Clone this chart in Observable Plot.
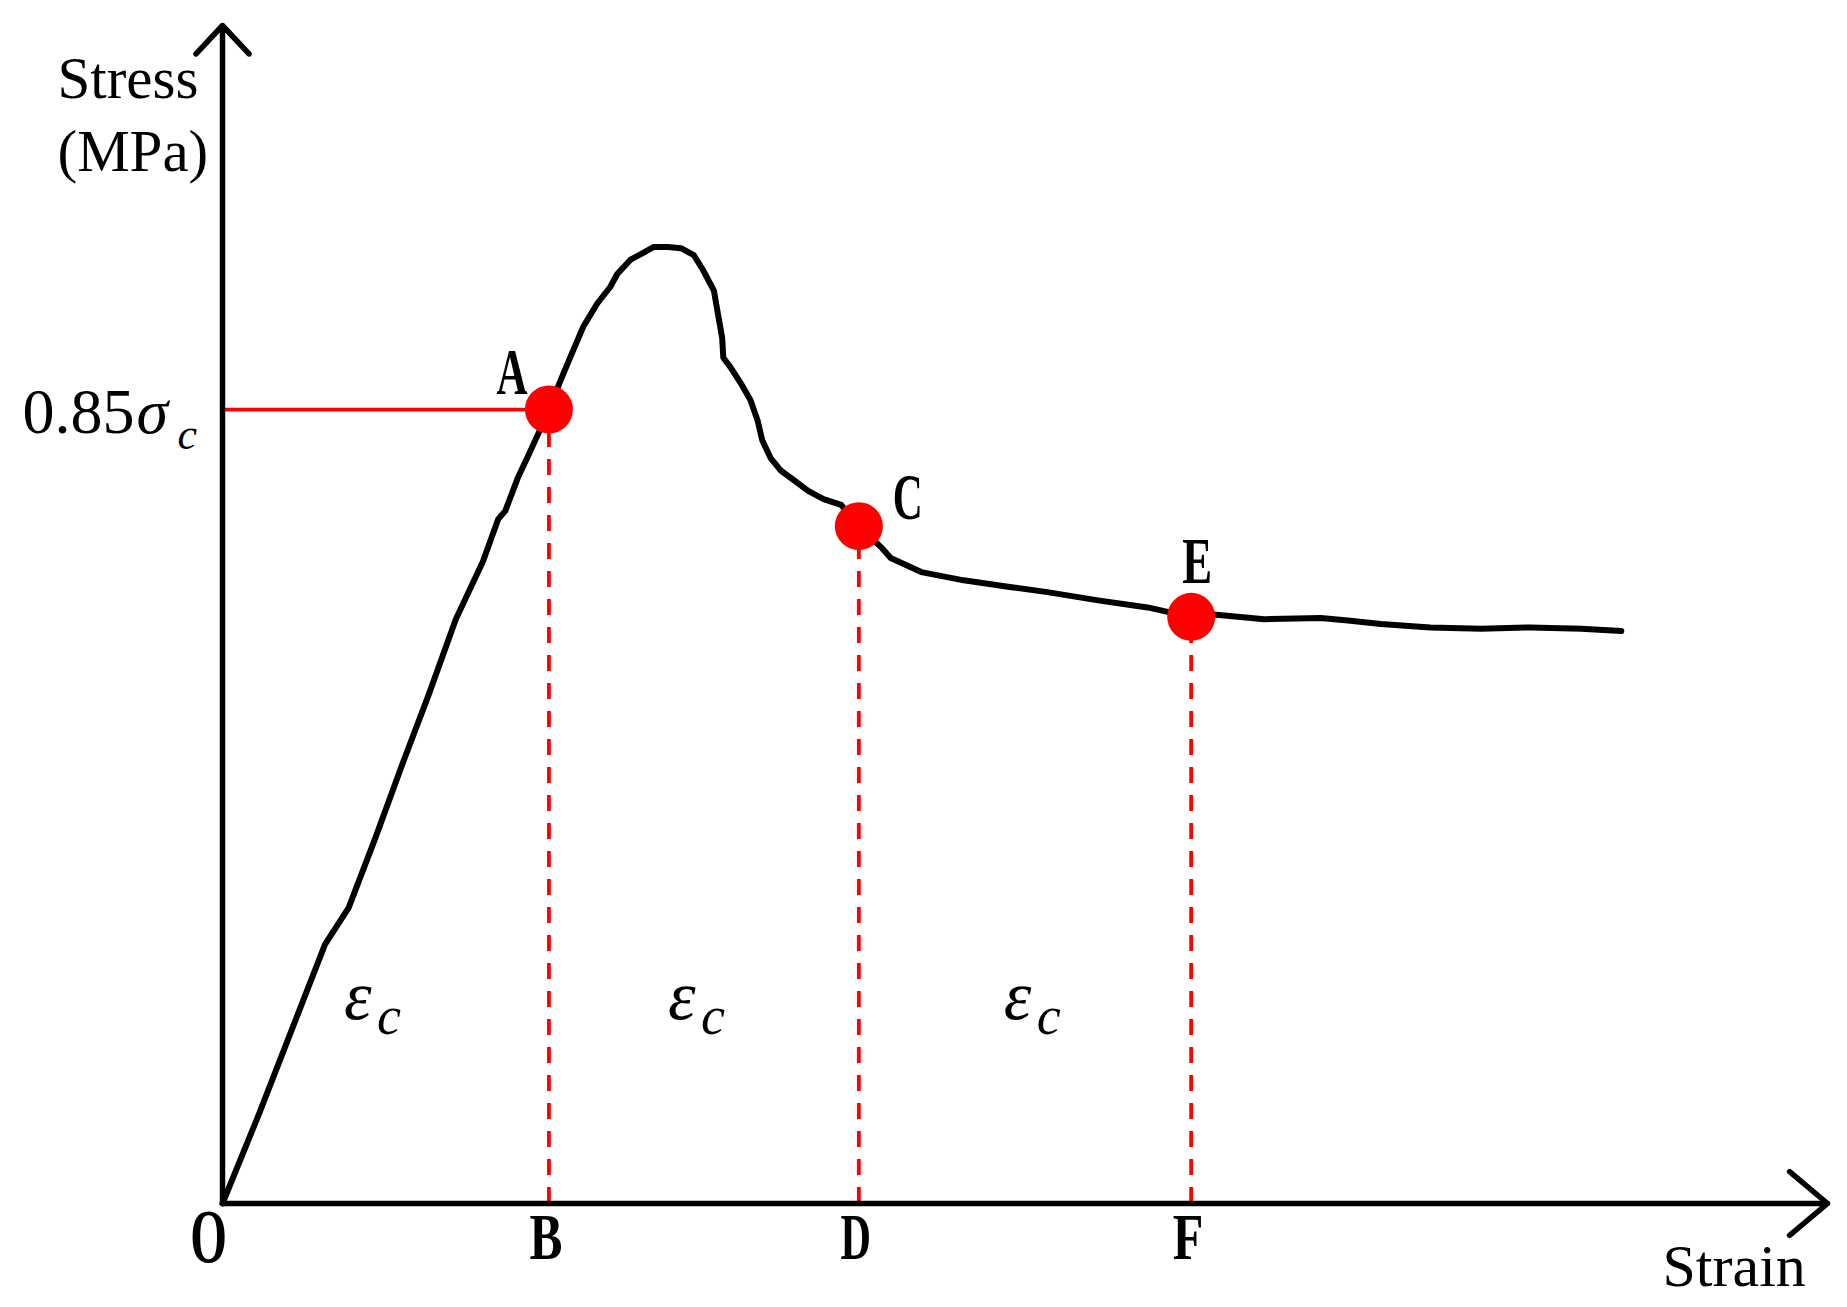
<!DOCTYPE html>
<html>
<head>
<meta charset="utf-8">
<script src="https://cdn.jsdelivr.net/npm/d3@7"></script>
<script src="https://cdn.jsdelivr.net/npm/@observablehq/plot@0.6"></script>
<style>
html, body { margin: 0; padding: 0; background: #fff; overflow: hidden; }
svg { display: block; }
</style>
</head>
<body>
<div id="chart"></div>
<script>
// ---- data (arbitrary units) ----
const strain = [0.00, 0.31, 0.59, 0.87, 1.07, 1.30, 1.53, 1.75, 1.98, 2.21,
                2.34, 2.40, 2.51, 2.60, 2.70, 2.77, 2.87, 2.95, 3.06, 3.18,
                3.29, 3.35, 3.46, 3.57, 3.66, 3.78, 3.89, 4.00, 4.08, 4.17,
                4.21, 4.24, 4.25, 4.31, 4.40, 4.48, 4.54, 4.58, 4.65, 4.74,
                4.85, 4.97, 5.10, 5.25, 5.40, 5.59, 5.67, 5.93, 6.29, 6.71,
                7.00, 7.43, 7.85, 8.21, 8.41, 8.84, 9.32, 9.55, 9.83, 10.25,
                10.68, 11.10, 11.53, 11.87];
const stress = [0.00, 0.76, 1.48, 2.20, 2.51, 3.11, 3.74, 4.32, 4.96, 5.45,
                5.81, 5.88, 6.17, 6.36, 6.58, 6.74, 6.99, 7.18, 7.44, 7.64,
                7.78, 7.89, 8.01, 8.07, 8.12, 8.12, 8.11, 8.05, 7.92, 7.75,
                7.52, 7.35, 7.18, 7.10, 6.96, 6.82, 6.65, 6.48, 6.33, 6.22,
                6.14, 6.05, 5.98, 5.93, 5.75, 5.57, 5.48, 5.36, 5.29, 5.23,
                5.19, 5.12, 5.06, 4.98, 5.00, 4.96, 4.97, 4.95, 4.92, 4.89,
                4.88, 4.89, 4.88, 4.86];

const pointNames  = ["A", "C", "E"];
const pointStrain = [2.77, 5.40, 8.22];
const pointStress = [6.74, 5.75, 4.98];
const footNames   = ["B", "D", "F"];
const originLabel = "O";

const epsStrain = [1.03, 3.78, 6.63];
const epsStress = [1.57, 1.57, 1.57];

const xMax = 13.62;
const yMax = 10;
const yTitle = ["Stress", "(MPa)"];
const xTitle = "Strain";
const levelLabel = ["0.85", "σ", "c"];
const epsLabel = ["ε", "c"];

// ---- build tables ----
const curve = strain.map((x, i) => ({x, y: stress[i]}));
const pts = pointNames.map((name, i) => ({name, foot: footNames[i], x: pointStrain[i], y: pointStress[i]}));
const eps = epsStrain.map((x, i) => ({x, y: epsStress[i]}));
const axes = [{x1: 0, y1: 0, x2: xMax, y2: 0}, {x1: 0, y1: 0, x2: 0, y2: yMax}];

const RED = "#ff0000";
const serif = "'Liberation Serif', 'Times New Roman', serif";
const letterOffsets = {A: [-37, -16], C: [49, -7], E: [6, -34]};

const plot = Plot.plot({
  width: 1847,
  height: 1307,
  marginLeft: 222,
  marginRight: 20,
  marginTop: 25,
  marginBottom: 104,
  x: {domain: [0, xMax], axis: null},
  y: {domain: [0, yMax], axis: null},
  style: {background: "#fff", fontFamily: serif, overflow: "visible"},
  marks: [
    // 0.85σc level line
    Plot.link([pts[0]], {x1: 0, y1: "y", x2: "x", y2: "y", stroke: RED, strokeWidth: 3.8}),
    // dashed drop lines
    Plot.ruleX(pts, {x: "x", y1: 0, y2: "y", stroke: RED, strokeWidth: 3.8, strokeDasharray: "16,12"}),
    // stress-strain curve
    Plot.line(curve, {x: "x", y: "y", stroke: "#000", strokeWidth: 6, strokeLinejoin: "round", strokeLinecap: "round"}),
    // axes with arrow heads
    Plot.arrow([axes[0]], {x1: "x1", y1: "y1", x2: "x2", y2: "y2", stroke: "#000", strokeWidth: 5.5, headLength: 13.5, headAngle: 80}),
    Plot.arrow([axes[1]], {x1: "x1", y1: "y1", x2: "x2", y2: "y2", stroke: "#000", strokeWidth: 5.5, headLength: 10.6, headAngle: 86}),
    // key points
    Plot.dot(pts, {x: "x", y: "y", r: 24, fill: RED, stroke: "none"}),
    // point letters
    ...pts.map(p => Plot.text([p], {
      x: "x", y: "y", text: "name", dx: letterOffsets[p.name][0], dy: letterOffsets[p.name][1],
      lineAnchor: "bottom", textAnchor: "middle", fontSize: 66, fontWeight: "bold", fill: "#000"
    })),
    // foot letters B, D, F
    Plot.text(pts, {x: "x", y: 0, text: "foot", dx: -3, dy: 55, lineAnchor: "bottom", textAnchor: "middle",
      fontSize: 66, fontWeight: "bold", fill: "#000"}),
    // origin
    Plot.text([originLabel], {x: 0, y: 0, text: d => d, dx: -14, dy: 58, lineAnchor: "bottom", textAnchor: "middle",
      fontSize: 76, fontWeight: 700, fill: "#000"}),
    // y title
    Plot.text([yTitle[0]], {x: 0, y: yMax, text: d => d, dx: -165, dy: 72, lineAnchor: "bottom", textAnchor: "start",
      fontSize: 59, fill: "#000"}),
    Plot.text([yTitle[1]], {x: 0, y: yMax, text: d => d, dx: -165, dy: 145, lineAnchor: "bottom", textAnchor: "start",
      fontSize: 59, fill: "#000"}),
    // x title
    Plot.text([xTitle], {x: xMax, y: 0, text: d => d, dx: -165, dy: 82, lineAnchor: "bottom", textAnchor: "start",
      fontSize: 60, fill: "#000"}),
    // 0.85σc label
    Plot.text([pts[0]], {x: 0, y: "y", text: () => levelLabel[0], dx: -200, dy: 23, lineAnchor: "bottom", textAnchor: "start",
      fontSize: 64, fill: "#000"}),
    Plot.text([pts[0]], {x: 0, y: "y", text: () => levelLabel[1], dx: -86, dy: 23, lineAnchor: "bottom", textAnchor: "start",
      fontSize: 64, fontStyle: "italic", fill: "#000"}),
    Plot.text([pts[0]], {x: 0, y: "y", text: () => levelLabel[2], dx: -45, dy: 39, lineAnchor: "bottom", textAnchor: "start",
      fontSize: 44, fontStyle: "italic", fill: "#000"}),
    // ε_c labels
    Plot.text(eps, {x: "x", y: "y", text: () => epsLabel[0], lineAnchor: "bottom", textAnchor: "start",
      fontSize: 70, fontStyle: "italic", fill: "#000"}),
    Plot.text(eps, {x: "x", y: "y", text: () => epsLabel[1], dx: 33, dy: 15, lineAnchor: "bottom", textAnchor: "start",
      fontSize: 54, fontStyle: "italic", fill: "#000"})
  ]
});

document.getElementById("chart").appendChild(plot);

// condense the bold serif letters (the reference uses a narrow bold face)
const narrow = {A: 0.65, B: 0.75, C: 0.63, D: 0.64, E: 0.68, F: 0.76, O: 0.62};
plot.querySelectorAll("text").forEach(t => {
  const g = t.closest("g[font-weight]");
  if (!g) return;
  const ratio = narrow[t.textContent];
  if (!ratio) return;
  const w = t.getComputedTextLength();
  if (w > 0) {
    t.setAttribute("textLength", (w * ratio).toFixed(1));
    t.setAttribute("lengthAdjust", "spacingAndGlyphs");
  }
});
</script>
</body>
</html>
